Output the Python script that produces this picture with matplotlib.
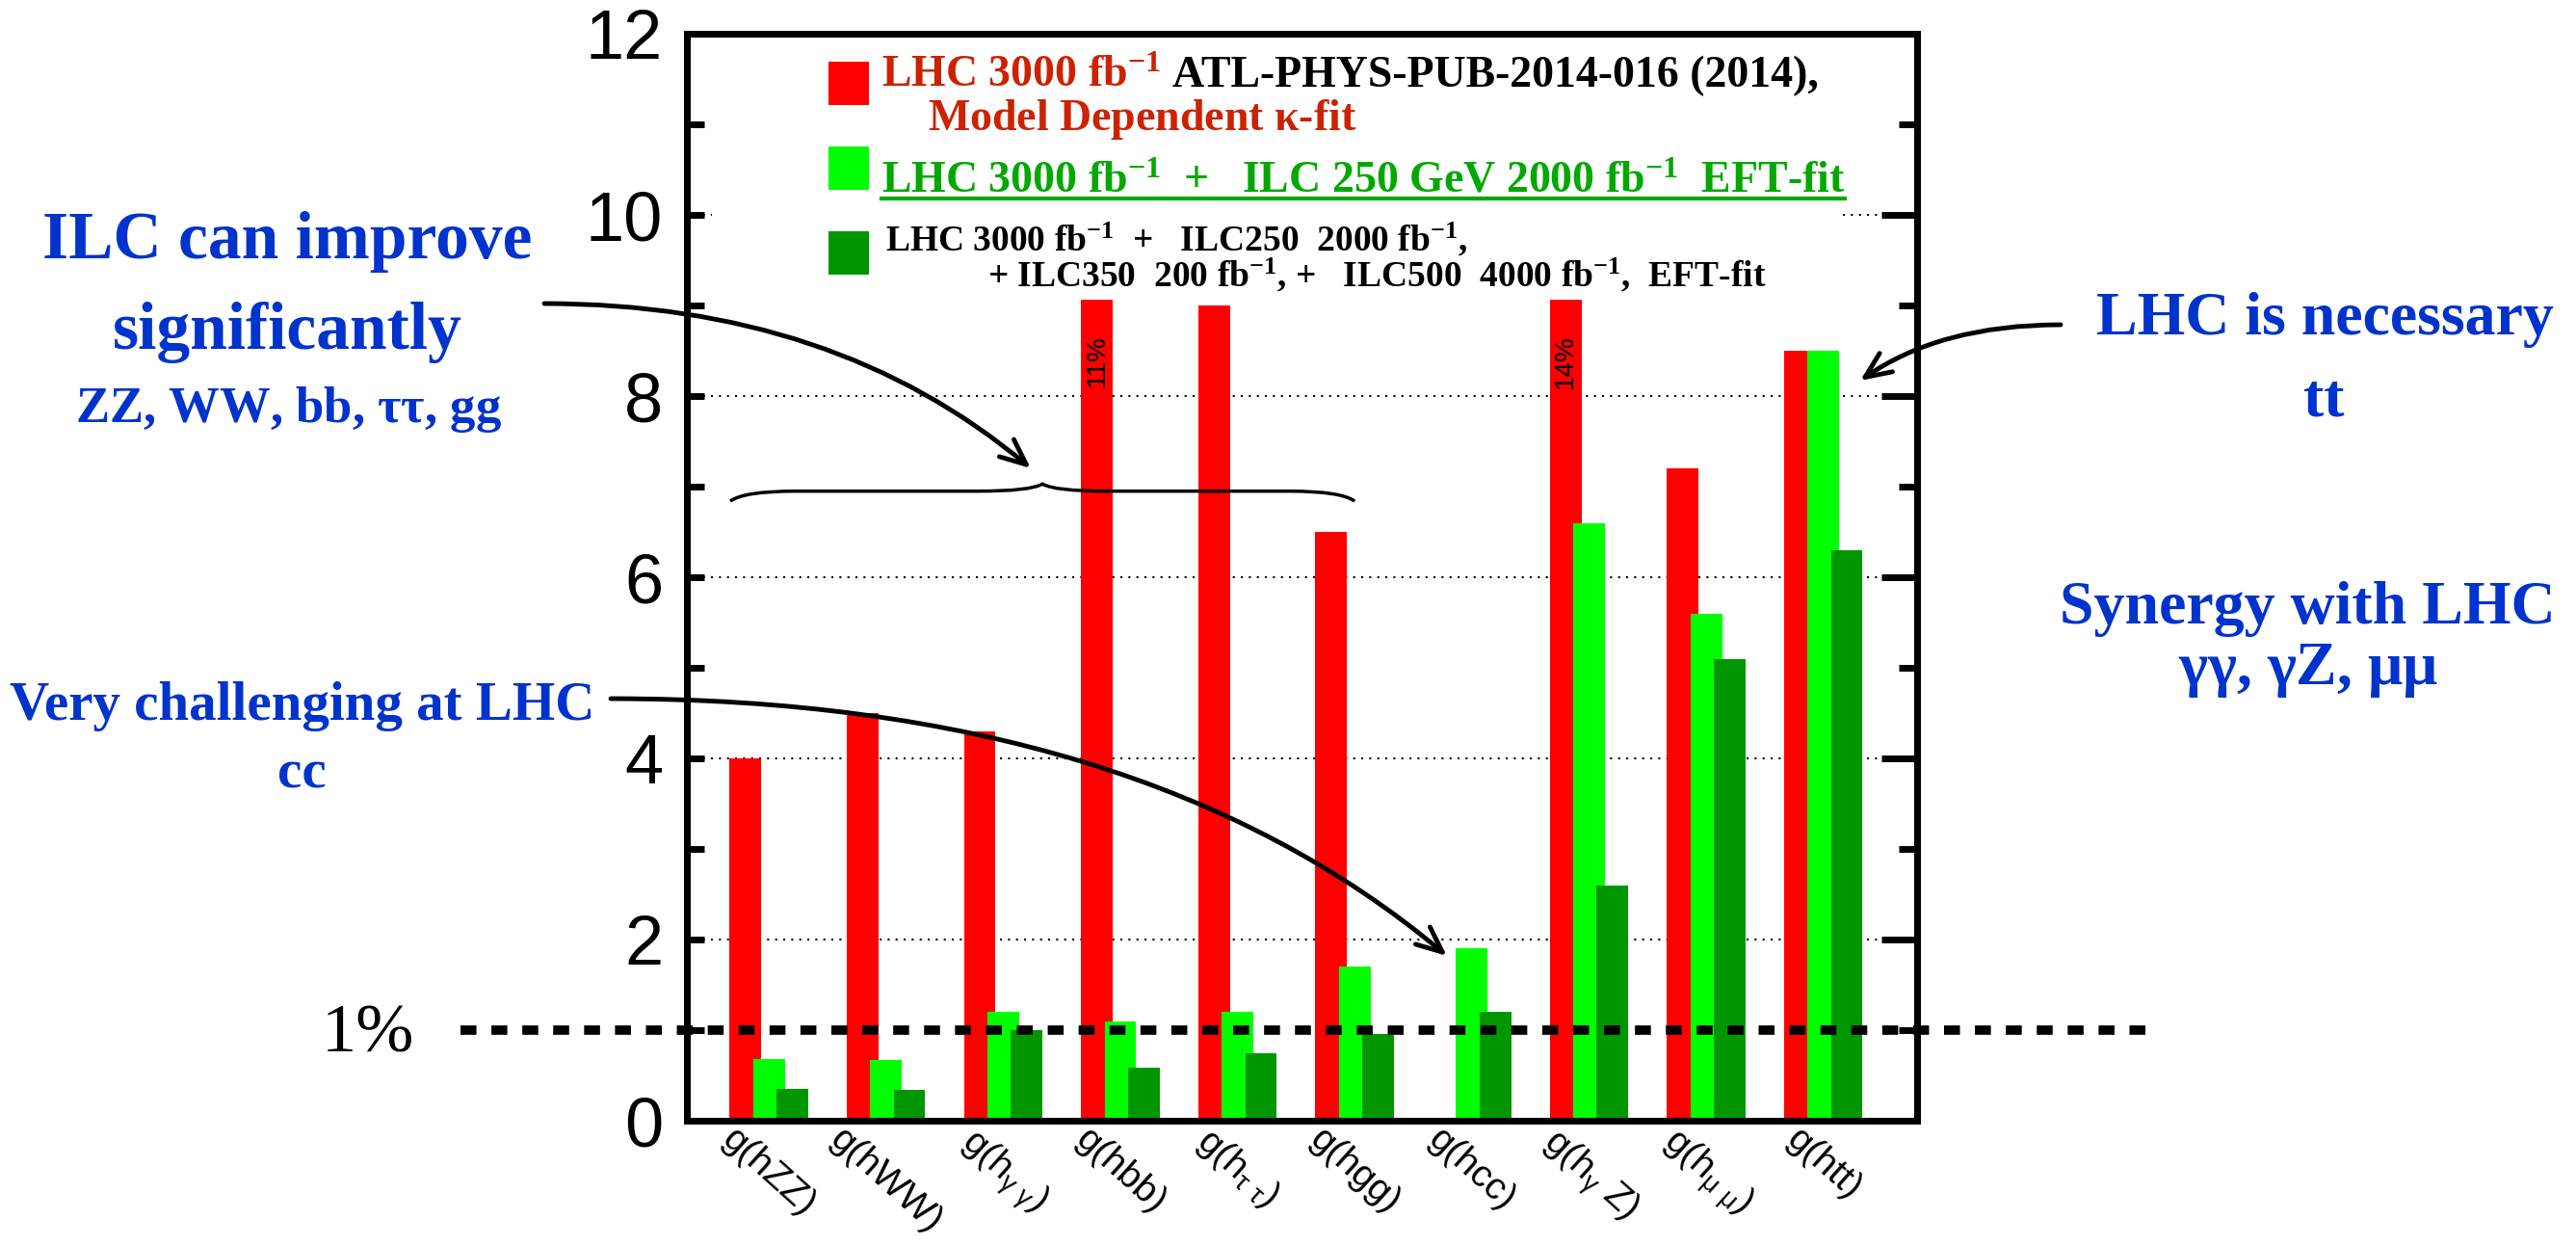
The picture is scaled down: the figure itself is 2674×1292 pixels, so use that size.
import numpy as np
import matplotlib.pyplot as plt
from matplotlib.patches import Rectangle, PathPatch, FancyArrowPatch
from matplotlib.path import Path
from matplotlib.lines import Line2D
from matplotlib.ticker import MultipleLocator
from matplotlib.transforms import IdentityTransform, blended_transform_factory

plt.rcParams['mathtext.fontset'] = 'custom'
plt.rcParams['mathtext.default'] = 'regular'

# coupling precision (%) for the three scenarios
couplings = ['g(hZZ)', 'g(hWW)', r'g(h$_{\gamma\ \gamma}$)', 'g(hbb)',
             r'g(h$_{\tau\ \tau}$)', 'g(hgg)', 'g(hcc)', r'g(h$_{\gamma}$ Z)',
             r'g(h$_{\mu\ \mu}$)', 'g(htt)']
lhc = [4.0, 4.5, 4.3, 9.06, 9.0, 6.5, 0.0, 9.06, 7.2, 8.5]
lhc_ilc250 = [0.68, 0.67, 1.2, 1.1, 1.2, 1.7, 1.9, 6.6, 5.6, 8.5]
lhc_ilc_full = [0.35, 0.34, 1.0, 0.58, 0.74, 0.96, 1.2, 2.6, 5.1, 6.3]
# bars cut at the top, with their real value written inside
offscale_idx = [3, 7]
offscale_txt = ['11%', '14%']

W, H = 2674, 1292
fig = plt.figure(figsize=(W / 100, H / 100), dpi=100)
ax = fig.add_axes([713 / W, 1 - 1163 / H, 1277 / W, 1128 / H])
px = IdentityTransform()

x = np.arange(1, len(couplings) + 1)
ax.bar(x - 0.2, lhc, 0.27, color='#ff0000', zorder=2)
ax.bar(x, lhc_ilc250, 0.27, color='#00ff00', zorder=3)
ax.bar(x + 0.2, lhc_ilc_full, 0.27, color='#009600', zorder=4)
for i, s in zip(offscale_idx, offscale_txt):
    ax.text(x[i] - 0.2, lhc[i] - 0.38, s, rotation=90, ha='center', va='top',
            fontsize=20, family='Liberation Sans', zorder=6)

for v in [2, 4, 6, 8, 10]:
    ax.axhline(v, color='black', lw=1.5, ls=(0, (1, 3)), zorder=1)

ax.set_xlim(0.3, 10.8)
ax.set_ylim(0, 12)
ax.yaxis.set_major_locator(MultipleLocator(2))
ax.yaxis.set_minor_locator(MultipleLocator(1))
ax.tick_params(axis='y', which='both', direction='in', length=13, width=5,
               labelsize=52, pad=18, right=False)
for lab in ax.get_yticklabels():
    lab.set_family('Liberation Sans')
ax.set_xticks(x)
ax.set_xticklabels(couplings, rotation=-42, ha='center', va='top',
                   fontsize=28, family='Liberation Sans')
ax.tick_params(axis='x', length=0, pad=1)
for sp in ax.spines.values():
    sp.set_linewidth(5)

ax2 = ax.twinx()
ax2.set_ylim(0, 12)
ax2.yaxis.set_major_locator(MultipleLocator(2))
ax2.yaxis.set_minor_locator(MultipleLocator(1))
ax2.tick_params(which='major', direction='in', length=27, width=5, labelright=False)
ax2.tick_params(which='minor', direction='in', length=14, width=5)
for sp in ax2.spines.values():
    sp.set_linewidth(5)

# legend background hides the grid line at 10
ax.add_patch(Rectangle((0.02, 0.77), 0.92, 0.22, transform=ax.transAxes,
                       facecolor='white', edgecolor='none', zorder=5))

# 1% reference line
ax.plot([478, 2242], [1, 1], transform=blended_transform_factory(px, ax.transData),
        color='black', lw=7, ls=(0, (1.7, 1.6)), clip_on=False, zorder=7)
fig.text(382, H - 1092, '1%', transform=px, ha='center', va='baseline',
         fontsize=52, family='Liberation Serif')

# legend
red_txt, green_txt = '#cc2200', '#00a800'
serif = 'Liberation Serif'
renderer = fig.canvas.get_renderer()


def runs(x0, y0, parts, size, gap=12):
    xx = x0
    for s, c in parts:
        t = fig.text(xx, H - y0, s, transform=px, color=c, fontsize=size,
                     family=serif, weight='bold', va='baseline', zorder=8)
        xx += t.get_window_extent(renderer).width + gap
    return xx - gap


for (y0, c) in [(64, '#ff0000'), (152, '#00ff00'), (240, '#009600')]:
    fig.add_artist(Rectangle((860, H - y0 - 45), 42, 45, transform=px,
                             facecolor=c, edgecolor='none', zorder=8))

runs(915, 90, [('LHC 3000 fb$^{-1}$', red_txt),
               ('ATL-PHYS-PUB-2014-016 (2014),', 'black')], 33)
runs(963, 135, [(r'Model Dependent $\kappa$-fit', red_txt)], 33)
xe = runs(915, 200, [('LHC 3000 fb$^{-1}$  +   ILC 250 GeV 2000 fb$^{-1}$  EFT-fit',
                      green_txt)], 33)
fig.add_artist(Line2D([915, xe], [H - 206, H - 206], transform=px,
                      color=green_txt, lw=3))
runs(919, 260, [('LHC 3000 fb$^{-1}$  +   ILC250  2000 fb$^{-1}$,', 'black')], 27)
runs(1025, 297, [('+ ILC350  200 fb$^{-1}$, +   ILC500  4000 fb$^{-1}$,  EFT-fit',
                  'black')], 27)

# comments
blue = '#0033cc'
notes = [(298, 268, 'ILC can improve', 50), (298, 362, 'significantly', 50),
         (299, 438, r'ZZ, WW, bb, $\tau\tau$, gg', 38),
         (314, 747, 'Very challenging at LHC', 41), (313, 818, 'cc', 41),
         (2413, 347, 'LHC is necessary', 46), (2412, 432, 'tt', 46),
         (2395, 647, 'Synergy with LHC', 46),
         (2396, 710, r'$\gamma\gamma$, $\gamma$Z, $\mu\mu$', 46)]
for cx, by, s, fs in notes:
    fig.text(cx, H - by, s, transform=px, ha='center', va='baseline', color=blue,
             fontsize=fs, family=serif, weight='bold')

arrows = [((565, 315), (1070, 486), 'angle3,angleA=0,angleB=-40'),
          ((634, 725), (1502, 992), 'angle3,angleA=0,angleB=-40'),
          ((2139, 337), (1931, 395), 'angle3,angleA=0,angleB=35')]
for (sx, sy), (tx, ty), cs in arrows:
    fig.add_artist(FancyArrowPatch((sx, H - sy), (tx, H - ty), transform=px,
                                   arrowstyle='->,head_length=1.6,head_width=0.7',
                                   connectionstyle=cs, mutation_scale=12, lw=3.5,
                                   color='black', shrinkA=0, shrinkB=0, zorder=9))

# brace over the first six couplings
bx0, bx1, by, bh, btip, bw = 0.67, 6.0, 6.95, 0.11, 0.08, 0.55
bm = (bx0 + bx1) / 2
verts = [(bx0, by - bh), (bx0 + 0.12, by), (bx0 + bw, by), (bm - bw, by),
         (bm - 0.1, by), (bm, by + btip), (bm + 0.1, by), (bm + bw, by),
         (bx1 - bw, by), (bx1 - 0.12, by), (bx1, by - bh)]
codes = [Path.MOVETO, Path.CURVE3, Path.CURVE3, Path.LINETO, Path.CURVE3, Path.CURVE3,
         Path.CURVE3, Path.CURVE3, Path.LINETO, Path.CURVE3, Path.CURVE3]
ax.add_patch(PathPatch(Path(verts, codes), facecolor='none', edgecolor='black',
                       lw=2.5, zorder=7))

fig.savefig('out.png', dpi=100)
